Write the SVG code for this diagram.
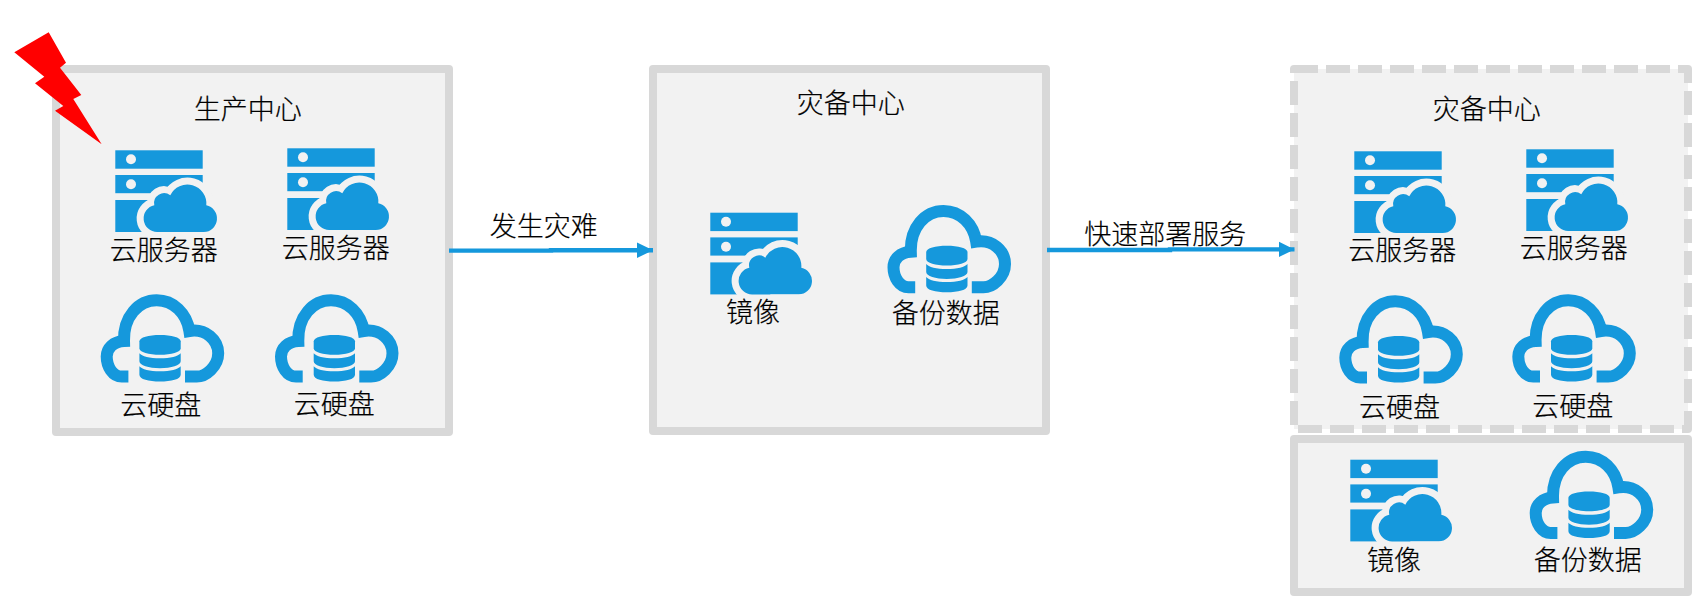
<svg xmlns="http://www.w3.org/2000/svg" width="1702" height="599" viewBox="0 0 1702 599">
<style>
.box{fill:#f2f2f2;stroke:#d8d8d8;stroke-width:8;stroke-linejoin:round}
.dash{stroke-dasharray:24 8}
text{font-family:"Noto Sans CJK SC","Noto Sans",sans-serif;font-size:27px;font-weight:300;fill:#000;stroke:#000;stroke-width:.2;text-anchor:middle}
.b{fill:#1598dc}
.conn{stroke:#1598dc;stroke-width:4.4;fill:none;marker-end:url(#arrow)}
</style>
<defs>
<marker id="arrow" markerUnits="userSpaceOnUse" markerWidth="16" markerHeight="16" refX="16" refY="8" orient="auto"><path d="M0 0.2L16 8L0 15.8Z" fill="#1598dc"/></marker>
<g id="srv">
<rect class="b" width="87.4" height="18.4"/><circle cx="15.7" cy="9" r="5" fill="#f2f2f2"/>
<rect class="b" y="24.7" width="87.4" height="18.2"/><circle cx="15.7" cy="34" r="5" fill="#f2f2f2"/>
<rect class="b" y="49.7" width="87.4" height="32"/>
<path d="M42 81.7A13.5 13.5 0 0 1 39 55A10 10 0 0 1 55 45A19 19 0 0 1 91 55A13.5 13.5 0 0 1 88.5 81.7Z" class="b" stroke="#f2f2f2" stroke-width="14" paint-order="stroke" stroke-linejoin="round"/>
<rect x="60" y="81.7" width="50" height="8" fill="#f2f2f2"/>
</g>
<g id="db">
<path d="M27.7 82.3H21C12 82.3 6 72.3 6 62.3C6 54 12.7 47.3 23.3 46.7C22.7 22.3 37.7 6 56 6C72.7 6 86 19 88.7 36.7C105 34 117.5 45.7 117.5 59C117.5 72.3 105 82.3 96 82.3H84.3" fill="none" stroke="#1598dc" stroke-width="12"/>
<path class="b" d="M38.7 47C38.7 43 48 40.7 59.3 40.7C70.6 40.7 80 43 80 47V54C80 58 70.6 60.5 59.3 60.5C48 60.5 38.7 58 38.7 54Z"/>
<path class="b" d="M38.7 59C41 62 49 64 59.3 64C69.6 64 77.6 62 80 59V67C80 71 70.6 74 59.3 74C48 74 38.7 71 38.7 67Z"/>
<path class="b" d="M38.7 72C41 75 49 77 59.3 77C69.6 77 77.6 75 80 72V80.5C80 85 70.6 87.3 59.3 87.3C48 87.3 38.7 85 38.7 80.5Z"/>
</g>
</defs>
<g id="production">
<rect class="box" x="56" y="69" width="393" height="363"/>
<text x="247.7" y="119">生产中心</text>
</g>
<g id="prod-server-1"><use href="#srv" x="115.3" y="150.3"/><text x="163.7" y="260">云服务器</text></g>
<g id="prod-server-2"><use href="#srv" x="287.3" y="148.3"/><text x="335.7" y="258">云服务器</text></g>
<g id="prod-disk-1"><use href="#db" x="100.7" y="294.3"/><text x="160.7" y="415">云硬盘</text></g>
<g id="prod-disk-2"><use href="#db" x="275" y="294.3"/><text x="334.2" y="414">云硬盘</text></g>
<polygon id="lightning" fill="#ff0000" points="48.7,32.3 66,62.7 60,67.7 81.3,95 73.3,99 101.7,144.3 55,110.7 63.3,106 35,83.3 44.3,76.7 14.3,52.3"/>
<g id="dr-center">
<rect class="box" x="653" y="69" width="393" height="362"/>
<text x="850.7" y="113">灾备中心</text>
</g>
<g id="dr-image"><use href="#srv" x="710.3" y="212.7"/><text x="753" y="322">镜像</text></g>
<g id="dr-backup"><use href="#db" x="887.5" y="205"/><text x="945.7" y="323">备份数据</text></g>
<g id="dr-new">
<rect class="box dash" x="1294" y="69" width="394" height="360"/>
<text x="1486.7" y="119">灾备中心</text>
</g>
<g id="new-server-1"><use href="#srv" x="1354.3" y="151.3"/><text x="1402.2" y="260">云服务器</text></g>
<g id="new-server-2"><use href="#srv" x="1526.3" y="149.3"/><text x="1573.7" y="258">云服务器</text></g>
<g id="new-disk-1"><use href="#db" x="1339.3" y="295.3"/><text x="1399.4" y="417">云硬盘</text></g>
<g id="new-disk-2"><use href="#db" x="1512.3" y="294.3"/><text x="1572.7" y="416">云硬盘</text></g>
<g id="storage"><rect class="box" x="1294" y="439" width="394" height="153"/></g>
<g id="st-image"><use href="#srv" x="1350.3" y="459.7"/><text x="1394" y="570">镜像</text></g>
<g id="st-backup"><use href="#db" x="1529.7" y="450.7"/><text x="1587.7" y="570">备份数据</text></g>
<g id="connectors">
<path class="conn" d="M449 250.6H551V250.2H653"/>
<path class="conn" d="M1047 250H1170V249.4H1294.5"/>
</g>
<text x="543.7" y="236">发生灾难</text>
<text x="1165.3" y="244">快速部署服务</text>
</svg>
